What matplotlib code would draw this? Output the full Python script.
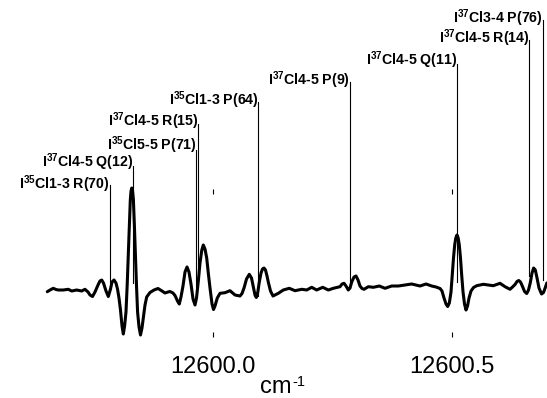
#!/usr/bin/env python3
"""Second-derivative ICl spectrum near 12600 cm-1 with line assignments."""

import matplotlib

matplotlib.use("Agg")
import matplotlib.pyplot as plt

plt.rcParams["font.family"] = ["Liberation Sans", "DejaVu Sans"]
plt.rcParams["mathtext.fontset"] = "custom"
plt.rcParams["mathtext.rm"] = "Liberation Sans"
plt.rcParams["mathtext.bf"] = "Liberation Sans:bold"

# spectrum (wavenumber in cm-1, signal in arb. units)
WAVENUMBER = [
    12599.6551, 12599.6608, 12599.6676, 12599.6733, 12599.6781, 12599.6885,
    12599.6990, 12599.7061, 12599.7165, 12599.7269, 12599.7338, 12599.7401,
    12599.7443, 12599.7495, 12599.7547, 12599.7610, 12599.7651, 12599.7687,
    12599.7724, 12599.7777, 12599.7825, 12599.7871, 12599.7902, 12599.7944,
    12599.7985, 12599.8017, 12599.8048, 12599.8079, 12599.8111, 12599.8138,
    12599.8165, 12599.8194, 12599.8219, 12599.8242, 12599.8263, 12599.8284,
    12599.8299, 12599.8315, 12599.8332, 12599.8349, 12599.8369, 12599.8390,
    12599.8413, 12599.8436, 12599.8466, 12599.8497, 12599.8528, 12599.8555,
    12599.8591, 12599.8626, 12599.8695, 12599.8779, 12599.8862, 12599.8946,
    12599.9008, 12599.9071, 12599.9113, 12599.9175, 12599.9217, 12599.9269,
    12599.9307, 12599.9342, 12599.9384, 12599.9426, 12599.9468, 12599.9509,
    12599.9551, 12599.9593, 12599.9635, 12599.9666, 12599.9704, 12599.9739,
    12599.9777, 12599.9808, 12599.9843, 12599.9879, 12599.9912, 12599.9948,
    12599.9990, 12600.0021, 12600.0052, 12600.0100, 12600.0157, 12600.0261,
    12600.0365, 12600.0470, 12600.0574, 12600.0616, 12600.0658, 12600.0710,
    12600.0768, 12600.0814, 12600.0852, 12600.0887, 12600.0914, 12600.0946,
    12600.0977, 12600.1013, 12600.1044, 12600.1075, 12600.1106, 12600.1138,
    12600.1169, 12600.1211, 12600.1263, 12600.1326, 12600.1374, 12600.1478,
    12600.1603, 12600.1722, 12600.1862, 12600.1967, 12600.2071, 12600.2175,
    12600.2301, 12600.2418, 12600.2522, 12600.2662, 12600.2704, 12600.2745,
    12600.2787, 12600.2835, 12600.2871, 12600.2906, 12600.2954, 12600.2996,
    12600.3038, 12600.3079, 12600.3121, 12600.3163, 12600.3253, 12600.3357,
    12600.3482, 12600.3601, 12600.3741, 12600.3879, 12600.4019, 12600.4159,
    12600.4332, 12600.4457, 12600.4576, 12600.4666, 12600.4750, 12600.4791,
    12600.4833, 12600.4875, 12600.4910, 12600.4944, 12600.4979, 12600.5006,
    12600.5031, 12600.5056, 12600.5079, 12600.5104, 12600.5129, 12600.5152,
    12600.5177, 12600.5202, 12600.5230, 12600.5261, 12600.5292, 12600.5324,
    12600.5355, 12600.5397, 12600.5449, 12600.5516, 12600.5653, 12600.5758,
    12600.5862, 12600.6002, 12600.6107, 12600.6211, 12600.6263, 12600.6315,
    12600.6357, 12600.6393, 12600.6430, 12600.6472, 12600.6514, 12600.6560,
    12600.6597, 12600.6633, 12600.6670, 12600.6704, 12600.6739, 12600.6775,
    12600.6816, 12600.6869, 12600.6910, 12600.6942, 12600.6979,
]
SIGNAL = [
    -0.017, 0.000, 0.017, 0.005, 0.000, 0.000,
    0.007, -0.010, 0.000, -0.010, 0.007, -0.020,
    -0.050, -0.065, -0.020, 0.050, 0.090, 0.100,
    0.070, -0.010, -0.065, 0.010, 0.080, 0.100,
    0.070, 0.010, -0.080, -0.200, -0.360, -0.440,
    -0.360, -0.220, 0.050, 0.350, 0.650, 0.900,
    0.990, 1.020, 0.990, 0.900, 0.650, 0.350,
    0.050, -0.220, -0.370, -0.450, -0.380, -0.280,
    -0.150, -0.070, -0.025, 0.000, 0.015, -0.010,
    -0.030, -0.020, -0.015, -0.030, -0.055, -0.110,
    -0.140, -0.070, 0.040, 0.180, 0.230, 0.180,
    0.060, -0.090, -0.150, -0.080, 0.090, 0.270,
    0.400, 0.450, 0.410, 0.320, 0.170, 0.020,
    -0.140, -0.195, -0.160, -0.080, -0.033, -0.027,
    -0.007, -0.050, -0.060, -0.035, 0.020, 0.110,
    0.157, 0.120, 0.030, -0.050, -0.075, -0.020,
    0.080, 0.170, 0.210, 0.220, 0.200, 0.140,
    0.070, -0.010, -0.060, -0.045, -0.033, 0.000,
    0.017, -0.007, 0.007, 0.000, 0.027, 0.000,
    0.027, 0.000, 0.017, 0.033, 0.060, 0.067,
    0.040, 0.000, 0.020, 0.080, 0.130, 0.140,
    0.100, 0.040, 0.015, 0.007, 0.033, 0.027,
    0.040, 0.017, 0.040, 0.040, 0.050, 0.060,
    0.040, 0.060, 0.040, 0.030, 0.015, -0.010,
    -0.080, -0.140, -0.165, -0.130, -0.020, 0.150,
    0.320, 0.450, 0.520, 0.550, 0.520, 0.450,
    0.320, 0.150, -0.020, -0.140, -0.200, -0.160,
    -0.080, -0.010, 0.025, 0.043, 0.057, 0.050,
    0.043, 0.067, 0.033, 0.007, 0.030, 0.055,
    0.085, 0.095, 0.080, 0.035, -0.015, -0.035,
    0.000, 0.070, 0.170, 0.220, 0.200, 0.120,
    0.020, -0.040, -0.025, 0.017, 0.070,
]

# assignments: isotope, band, branch
LINE_ISOTOPE = ["35", "37", "35", "37", "35", "37", "37", "37", "37"]
LINE_BAND = ["Cl1-3 R(70)", "Cl4-5 Q(12)", "Cl5-5 P(71)", "Cl4-5 R(15)",
             "Cl1-3 P(64)", "Cl4-5 P(9)", "Cl4-5 Q(11)", "Cl4-5 R(14)",
             "Cl3-4 P(76)"]
LINE_POSITION = [12599.785, 12599.833, 12599.966, 12599.970, 12600.096,
                 12600.286, 12600.510, 12600.660, 12600.689]

TICKS = [12600.0, 12600.5]
TICK_LABELS = ["12600.0", "12600.5"]

# layout of the stick marks (signal units)
LINE_BOTTOM = [0.07, 0.07, 0.03, 0.10, -0.06, 0.02, 0.08, 0.14, 0.10]
LINE_TOP = [1.05, 1.24, 1.40, 1.66, 1.88, 2.08, 2.26, 2.50, 2.70]
LABEL_Y = [1.01, 1.23, 1.40, 1.64, 1.85, 2.05, 2.25, 2.47, 2.67]


def main():
    fig = plt.figure(figsize=(5.47, 3.98), dpi=100)
    ax = fig.add_axes([47 / 547, 61 / 398, 500 / 547, 148 / 398])

    ax.plot(WAVENUMBER, SIGNAL, color="black", lw=2.2, clip_on=False,
            solid_joinstyle="round", solid_capstyle="round")

    for iso, band, pos, lo, hi, ly in zip(LINE_ISOTOPE, LINE_BAND, LINE_POSITION,
                                          LINE_BOTTOM, LINE_TOP, LABEL_Y):
        ax.plot([pos, pos], [lo, hi], color="black", lw=0.8, clip_on=False)
        ax.text(pos + 0.001, ly, r"I$^{\mathbf{%s}}$%s" % (iso, band),
                ha="right", va="baseline", fontsize=10.2, fontweight="bold",
                clip_on=False)

    ax.set_xlim(12599.6545, 12600.6983)
    ax.set_ylim(-0.47, 1.01)
    ax.set_xticks(TICKS)
    ax.set_xticklabels(TICK_LABELS, fontsize=17)
    ax.set_yticks([])
    ax.tick_params(axis="x", direction="in", top=True, length=3.5, width=0.8,
                   pad=14)
    for spine in ax.spines.values():
        spine.set_visible(False)

    # axis unit, written as cm with a raised -1
    fig.text(260 / 547, 5 / 398, "cm", ha="left", va="baseline", fontsize=17)
    fig.text(292 / 547, 12 / 398, "-1", ha="left", va="baseline", fontsize=10.5)

    fig.savefig("out.png", dpi=100)


if __name__ == "__main__":
    main()
